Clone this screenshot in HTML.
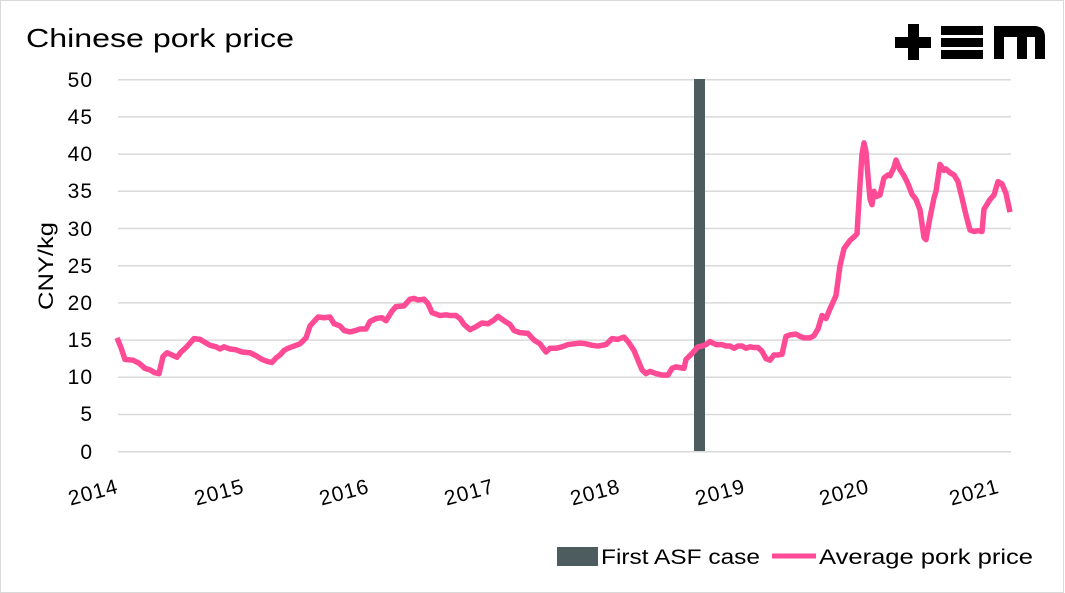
<!DOCTYPE html>
<html><head><style>
body{margin:0;background:#fff;}
svg{display:block;font-family:"Liberation Sans",sans-serif;}
</style></head><body>
<svg width="1065" height="593" viewBox="0 0 1065 593">
<rect x="0.5" y="0.5" width="1063" height="592" fill="#fff" stroke="#d9d9d9"/>
<text x="26" y="47" font-size="26" textLength="268" lengthAdjust="spacingAndGlyphs" fill="#000">Chinese pork price</text>
<g fill="#000">
<rect x="895" y="37" width="36" height="11"/><rect x="908" y="24" width="11" height="36"/>
<rect x="941" y="26" width="42" height="9"/><rect x="941" y="38" width="42" height="9"/><rect x="941" y="50" width="42" height="9"/>
<path d="M994 59V26h40q11 0 11 11v22h-10V37h-8v22h-10V37h-13v22z"/>
</g>
<g stroke="#d9d9d9" stroke-width="1.5">
<line x1="118" x2="1011" y1="79.7" y2="79.7"/><line x1="118" x2="1011" y1="116.9" y2="116.9"/>
<line x1="118" x2="1011" y1="154.1" y2="154.1"/><line x1="118" x2="1011" y1="191.3" y2="191.3"/>
<line x1="118" x2="1011" y1="228.5" y2="228.5"/><line x1="118" x2="1011" y1="265.7" y2="265.7"/>
<line x1="118" x2="1011" y1="302.9" y2="302.9"/><line x1="118" x2="1011" y1="340.1" y2="340.1"/>
<line x1="118" x2="1011" y1="377.3" y2="377.3"/><line x1="118" x2="1011" y1="414.5" y2="414.5"/>
<line x1="118" x2="1011" y1="451.7" y2="451.7"/>
</g>
<g font-size="21" text-anchor="end" fill="#000" letter-spacing="1">
<text x="93" y="87">50</text><text x="93" y="124">45</text><text x="93" y="161">40</text>
<text x="93" y="198">35</text><text x="93" y="236">30</text><text x="93" y="273">25</text>
<text x="93" y="310">20</text><text x="93" y="347">15</text><text x="93" y="384">10</text>
<text x="93" y="421">5</text><text x="93" y="459">0</text>
</g>
<text transform="translate(53,266) rotate(-90)" font-size="21" text-anchor="middle" textLength="88" lengthAdjust="spacingAndGlyphs">CNY/kg</text>
<rect x="694" y="79" width="11" height="372" fill="#4d5d5f"/>
<g font-size="21" text-anchor="middle" letter-spacing="1">
<text transform="translate(95,499) rotate(-15)">2014</text>
<text transform="translate(221,499) rotate(-15)">2015</text>
<text transform="translate(346,499) rotate(-15)">2016</text>
<text transform="translate(471,499) rotate(-15)">2017</text>
<text transform="translate(597,499) rotate(-15)">2018</text>
<text transform="translate(722,499) rotate(-15)">2019</text>
<text transform="translate(846,499) rotate(-15)">2020</text>
<text transform="translate(976,499) rotate(-15)">2021</text>
</g>
<polyline fill="none" stroke="#ff4b96" stroke-width="5.5" stroke-linejoin="round" transform="translate(0,451.7) scale(1,-7.44)" vector-effect="non-scaling-stroke" points="117,15.3 121,14 125,12.4 133,12.3 139,11.9 145,11.2 150,11 155,10.6 159,10.5 163,12.8 167,13.3 172,13 177,12.7 181,13.4 186,14 190,14.6 194,15.2 200,15.1 205,14.7 210,14.3 216,14.1 220,13.8 224,14.1 230,13.8 236,13.7 242,13.4 250,13.3 256,12.9 262,12.4 268,12.1 272,12 276,12.6 280,13 284,13.6 288,13.9 294,14.2 300,14.5 306,15.3 310,16.9 314,17.5 318,18.1 324,18 330,18.1 334,17.2 340,16.9 344,16.3 350,16.1 356,16.3 360,16.5 366,16.5 370,17.5 376,17.9 382,18 386,17.6 392,18.9 396,19.5 404,19.6 410,20.5 414,20.6 418,20.4 424,20.5 428,19.9 432,18.7 440,18.3 446,18.4 450,18.3 456,18.3 460,17.9 464,17.1 470,16.4 476,16.8 482,17.3 488,17.2 494,17.7 498,18.2 504,17.6 510,17.1 514,16.3 520,16 528,15.9 534,15 540,14.5 546,13.4 550,13.9 556,13.9 562,14.1 568,14.4 574,14.5 580,14.6 586,14.5 592,14.3 598,14.2 606,14.4 612,15.2 618,15.1 624,15.4 628,14.8 634,13.6 638,12.3 642,11 646,10.5 650,10.8 656,10.5 662,10.3 668,10.3 672,11.2 676,11.4 684,11.2 686,12.4 692,13.2 698,14.1 702,14.2 706,14.4 710,14.8 716,14.4 722,14.4 726,14.2 730,14.2 734,13.9 738,14.2 742,14.2 746,13.9 750,14.1 754,14 758,14 762,13.5 766,12.5 770,12.3 774,13 778,13 782,13.1 786,15.5 790,15.7 796,15.8 800,15.5 804,15.3 810,15.3 814,15.6 818,16.5 822,18.3 826,17.9 830,19.2 836,21 840,25 844,27.3 850,28.4 855,29 857,29.3 860,36 862,40 864,41.5 866,40.3 868,37 870,34 872,33.2 874,35 876,34.3 880,34.5 884,36.8 888,37.2 890,37.1 894,38.2 896,39.2 900,37.9 904,37.1 908,36 912,34.6 916,33.9 920,32.5 924,28.8 926,28.5 930,31.5 934,34.1 936,35 940,38.6 944,37.8 946,38 950,37.5 954,37.2 958,36.3 962,34.1 966,31.8 970,29.8 974,29.6 978,29.7 982,29.6 984,32.6 990,33.9 994,34.5 998,36.3 1002,36 1006,34.7 1010,32.2"/>
<rect x="557" y="547" width="41" height="19" fill="#4d5d5f"/>
<text x="601" y="564" font-size="21" textLength="159" lengthAdjust="spacingAndGlyphs">First ASF case</text>
<line x1="772" x2="816" y1="556" y2="556" stroke="#ff4b96" stroke-width="5"/>
<text x="819" y="564" font-size="21" textLength="214" lengthAdjust="spacingAndGlyphs">Average pork price</text>
</svg>
</body></html>
